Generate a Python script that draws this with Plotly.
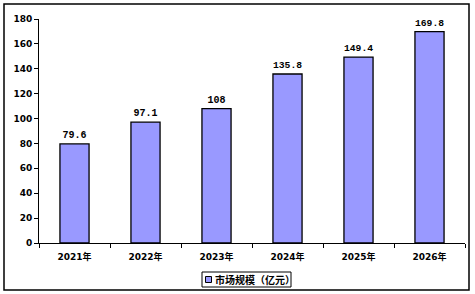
import plotly.graph_objects as go

categories = ["2021年", "2022年", "2023年", "2024年", "2025年", "2026年"]
values = [79.6, 97.1, 108, 135.8, 149.4, 169.8]
series_name = "市场规模（亿元）"

L, R, T, B = 39, 10, 19, 51
W, H = 475, 294
pw, ph = W - L - R, H - T - B

def px_x(x):
    return (x - L) / pw

def px_y(y):
    return (H - B - y) / ph

BAR_COLOR = "#9999FF"

fig = go.Figure()
fig.add_trace(go.Bar(
    x=categories, y=values, name=series_name,
    marker=dict(color=BAR_COLOR, line=dict(color="black", width=1.3)),
    text=[f"{v:g}" for v in values], textposition="outside",
    textfont=dict(family="Liberation Mono", size=10, color="black", weight="bold"),
    cliponaxis=False, showlegend=False,
))

# legend key drawn below the axis
shapes = [
    dict(type="rect", xref="paper", yref="paper",
         x0=px_x(4), x1=px_x(469), y0=px_y(290), y1=px_y(4),
         line=dict(color="black", width=1.5), layer="below"),
    dict(type="rect", xref="paper", yref="paper",
         x0=px_x(202), x1=px_x(291), y0=px_y(287), y1=px_y(272),
         line=dict(color="black", width=1), fillcolor="white"),
    dict(type="rect", xref="paper", yref="paper",
         x0=px_x(205.5), x1=px_x(211.5), y0=px_y(282.5), y1=px_y(276.5),
         line=dict(color="black", width=1), fillcolor=BAR_COLOR),
]

annotations = [
    dict(xref="paper", yref="paper", x=px_x(213), y=px_y(279.5),
         xanchor="left", yanchor="middle", showarrow=False, text=series_name,
         font=dict(family="Noto Sans CJK SC", size=10, color="black", weight="bold")),
]

fig.update_layout(
    width=W, height=H,
    margin=dict(l=L, r=R, t=T, b=B, autoexpand=False),
    paper_bgcolor="white", plot_bgcolor="white",
    bargap=0.59,
    showlegend=False,
    font=dict(family="DejaVu Sans, Noto Sans CJK SC", size=9, color="black", weight="bold"),
    xaxis=dict(
        type="category", showline=True, linecolor="black", linewidth=1,
        ticks="outside", tickson="boundaries", ticklen=4, tickcolor="black",
        ticklabelstandoff=5,
        tickfont=dict(family="DejaVu Sans, Noto Sans CJK SC", size=9, color="black", weight="bold"),
        showgrid=False, zeroline=False,
    ),
    yaxis=dict(
        range=[0, 180], dtick=20, showline=True, linecolor="black", linewidth=1,
        ticks="outside", ticklen=4, tickcolor="black", showgrid=False, zeroline=False,
        tickfont=dict(family="DejaVu Sans", size=9, color="black", weight="bold"),
    ),
    shapes=shapes,
    annotations=annotations,
)

fig.write_html("out.html")
